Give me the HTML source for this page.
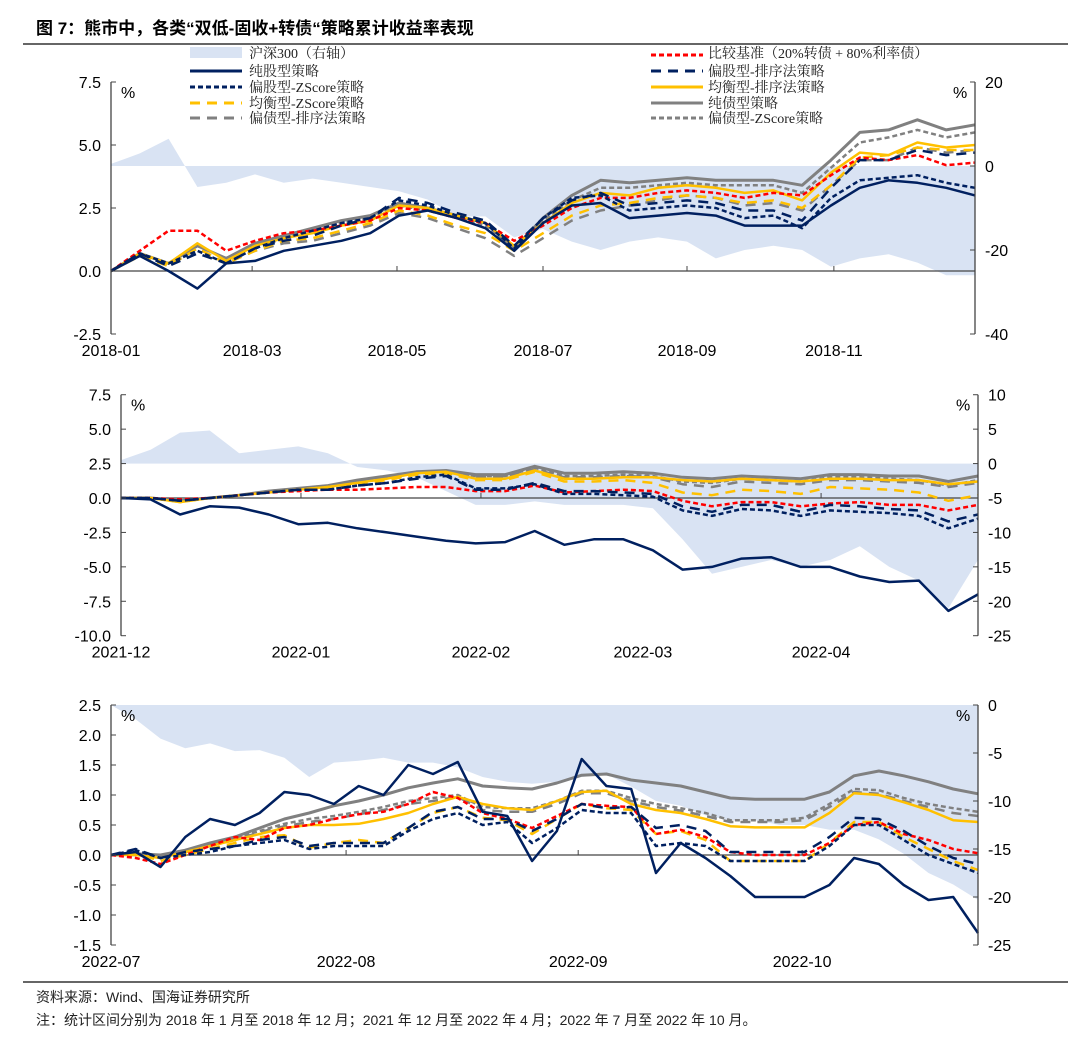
<!DOCTYPE html>
<html><head><meta charset="utf-8">
<style>
html,body{margin:0;padding:0;background:#fff;}
svg{display:block;}
.t{font-family:"Liberation Sans","Noto Sans CJK SC",sans-serif;font-size:16px;fill:#000;}
.lg{font-family:"Liberation Serif","Noto Serif CJK SC",serif;font-size:14px;fill:#222;}
</style></head>
<body>
<svg id="chart" width="1080" height="1039" viewBox="0 0 1080 1039" xmlns="http://www.w3.org/2000/svg">
<text x="36" y="34" style="font-family:'Liberation Sans','Noto Sans CJK SC',sans-serif;font-size:17px;font-weight:bold;fill:#000">图 7：熊市中，各类“双低-固收+转债“策略累计收益率表现</text>
<line x1="23" y1="44" x2="1068" y2="44" stroke="#666" stroke-width="2"/>
<g id="legend">
 <g><rect x="190" y="47" width="52" height="11" fill="#d9e3f3"/><text class="lg" x="249" y="58">沪深300（右轴）</text></g>
 <g><line x1="190" y1="71" x2="242" y2="71" stroke="#002060" stroke-width="3"/><text class="lg" x="249" y="76">纯股型策略</text></g>
 <g><line x1="190" y1="87" x2="242" y2="87" stroke="#002060" stroke-width="3" stroke-dasharray="5,3"/><text class="lg" x="249" y="92">偏股型-ZScore策略</text></g>
 <g><line x1="190" y1="103" x2="242" y2="103" stroke="#ffc000" stroke-width="3" stroke-dasharray="10,7"/><text class="lg" x="249" y="108">均衡型-ZScore策略</text></g>
 <g><line x1="190" y1="118" x2="242" y2="118" stroke="#808080" stroke-width="3" stroke-dasharray="10,7"/><text class="lg" x="249" y="123">偏债型-排序法策略</text></g>
 <g><line x1="651" y1="55" x2="703" y2="55" stroke="#ff0000" stroke-width="3" stroke-dasharray="5,3"/><text class="lg" x="708" y="58">比较基准（20%转债 + 80%利率债）</text></g>
 <g><line x1="651" y1="71" x2="703" y2="71" stroke="#002060" stroke-width="3" stroke-dasharray="10,7"/><text class="lg" x="708" y="76">偏股型-排序法策略</text></g>
 <g><line x1="651" y1="87" x2="703" y2="87" stroke="#ffc000" stroke-width="3"/><text class="lg" x="708" y="92">均衡型-排序法策略</text></g>
 <g><line x1="651" y1="103" x2="703" y2="103" stroke="#808080" stroke-width="3"/><text class="lg" x="708" y="108">纯债型策略</text></g>
 <g><line x1="651" y1="118" x2="703" y2="118" stroke="#808080" stroke-width="3" stroke-dasharray="5,3"/><text class="lg" x="708" y="123">偏债型-ZScore策略</text></g>
</g>
<line x1="23" y1="982" x2="1068" y2="982" stroke="#666" stroke-width="2"/>
<text x="36" y="1002" style="font-family:'Liberation Sans','Noto Sans CJK SC',sans-serif;font-size:14px;fill:#222">资料来源：Wind、国海证券研究所</text>
<text x="36" y="1025" style="font-family:'Liberation Sans','Noto Sans CJK SC',sans-serif;font-size:14px;fill:#222">注：统计区间分别为 2018 年 1 月至 2018 年 12 月；2021 年 12 月至 2022 年 4 月；2022 年 7 月至 2022 年 10 月。</text>
</svg>
<script>
// ---------- Panel 1: 2018 ----------
const p1Months = ["2018-01","2018-03","2018-05","2018-07","2018-09","2018-11"];
const p1MonthIdx = [0,4.9,9.93,15,20,25.1];
const p1Hs = [0.5,3,6.5,-5,-4,-2,-4,-3,-4,-5,-6,-8,-12,-12,-17,-15,-18,-20,-18,-17,-18,-22,-20,-19,-20,-24,-22,-21,-23,-26,-26];
const p1Bench = [0.0,0.8,1.6,1.6,0.8,1.2,1.5,1.6,1.8,2.0,2.5,2.4,2.1,1.9,1.2,1.8,2.5,2.9,2.9,3.1,3.2,3.1,2.9,3.1,3.0,3.8,4.5,4.4,4.6,4.2,4.3];
const p1PureEq = [0.0,0.6,0.0,-0.7,0.3,0.4,0.8,1.0,1.2,1.5,2.2,2.4,2.1,1.7,0.8,1.9,2.6,2.7,2.1,2.2,2.3,2.2,1.8,1.8,1.8,2.6,3.3,3.6,3.5,3.3,3.0];
const p1EqRank = [0.0,0.7,0.2,0.7,0.3,0.9,1.2,1.4,1.8,2.1,2.9,2.7,2.3,2.0,1.0,2.1,2.8,3.1,2.6,2.7,2.8,2.7,2.4,2.4,2.0,3.3,4.4,4.4,4.8,4.6,4.7];
const p1EqZ = [0.0,0.7,0.3,0.8,0.3,0.9,1.3,1.6,1.9,2.1,2.8,2.6,2.2,1.9,0.9,2.1,2.9,3.0,2.4,2.5,2.6,2.5,2.1,2.2,1.7,2.9,3.6,3.7,3.8,3.5,3.3];
const p1BalRank = [0.0,0.7,0.3,1.1,0.4,1.0,1.3,1.5,1.8,2.0,2.6,2.5,2.2,1.9,1.0,1.9,2.7,3.1,3.0,3.3,3.4,3.3,3.1,3.2,2.8,3.9,4.7,4.6,5.1,4.9,5.0];
const p1BalZ = [0.0,0.6,0.2,0.9,0.3,0.8,1.2,1.3,1.6,1.9,2.4,2.2,1.8,1.5,0.8,1.5,2.2,2.6,2.7,2.9,3.0,2.9,2.7,2.8,2.5,3.4,4.5,4.6,4.9,4.8,4.8];
const p1PureBond = [0.0,0.7,0.3,1.0,0.5,1.1,1.4,1.7,2.0,2.2,2.7,2.5,2.2,1.9,0.9,2.1,3.0,3.6,3.5,3.6,3.7,3.6,3.6,3.6,3.4,4.4,5.5,5.6,6.0,5.6,5.8];
const p1BondRank = [0.0,0.6,0.2,0.9,0.3,0.8,1.1,1.2,1.5,1.8,2.3,2.1,1.7,1.3,0.6,1.3,2.0,2.4,2.6,2.8,3.0,2.9,2.6,2.7,2.4,3.4,4.4,4.4,4.9,4.7,4.8];
const p1BondZ = [0.0,0.7,0.3,1.0,0.5,1.1,1.4,1.6,1.9,2.1,2.6,2.4,2.1,1.8,0.9,2.0,2.8,3.3,3.3,3.4,3.5,3.4,3.4,3.4,3.1,4.1,5.1,5.3,5.6,5.3,5.5];
const p1LeftTicks = [7.5,5.0,2.5,0.0,-2.5];
const p1RightTicks = [20,0,-20,-40];

// ---------- Panel 2: 2021-12 to 2022-04 ----------
const p2Months = ["2021-12","2022-01","2022-02","2022-03","2022-04"];
const p2MonthIdx = [0,6.09,12.18,17.66,23.69];
const p2Hs = [0.5,2,4.5,4.8,1.5,2,2.5,1.5,-0.5,-1,-2,-4,-6,-6,-5.5,-6,-6,-6,-6.5,-11,-16,-15,-14,-15,-14,-12,-15,-17,-21,-14];
const p2Bench = [0,0,-0.1,0,0.2,0.4,0.5,0.6,0.6,0.7,0.8,0.8,0.5,0.5,0.9,0.4,0.5,0.6,0.5,-0.2,-0.6,-0.3,-0.3,-0.6,-0.4,-0.3,-0.5,-0.5,-0.9,-0.5];
const p2PureEq = [0,-0.1,-1.2,-0.6,-0.7,-1.2,-1.9,-1.8,-2.2,-2.5,-2.8,-3.1,-3.3,-3.2,-2.4,-3.4,-3.0,-3.0,-3.8,-5.2,-5.0,-4.4,-4.3,-5.0,-5.0,-5.7,-6.1,-6.0,-8.2,-7.0];
const p2EqRank = [0,0,-0.2,0,0.2,0.4,0.6,0.6,0.9,1.1,1.4,1.6,0.6,0.6,1.1,0.5,0.5,0.4,0.3,-0.6,-1.0,-0.5,-0.5,-1.0,-0.5,-0.6,-0.8,-0.9,-1.7,-1.2];
const p2EqZ = [0,0,-0.2,0,0.2,0.4,0.6,0.6,0.9,1.1,1.5,1.7,0.7,0.7,1.0,0.3,0.3,0.2,0.1,-0.9,-1.3,-0.8,-0.9,-1.3,-0.9,-1.0,-1.1,-1.3,-2.2,-1.5];
const p2BalRank = [0,0,-0.3,0,0.2,0.4,0.6,0.8,1.1,1.4,1.8,1.9,1.4,1.4,2.0,1.4,1.4,1.5,1.5,1.3,1.2,1.4,1.3,1.2,1.4,1.4,1.3,1.3,1.0,1.2];
const p2BalZ = [0,0,-0.3,0,0.2,0.4,0.6,0.8,1.0,1.3,1.7,1.8,1.3,1.3,1.9,1.2,1.2,1.3,1.1,0.4,0.2,0.6,0.5,0.3,0.8,0.7,0.6,0.4,-0.2,0.2];
const p2PureBond = [0,0,-0.2,0,0.2,0.5,0.7,0.9,1.3,1.6,1.9,2.0,1.7,1.7,2.3,1.8,1.8,1.9,1.8,1.5,1.4,1.6,1.5,1.4,1.7,1.7,1.6,1.6,1.2,1.6];
const p2BondRank = [0,0,-0.2,0,0.2,0.4,0.6,0.8,1.1,1.4,1.7,1.8,1.5,1.5,2.1,1.5,1.5,1.6,1.5,1.0,0.8,1.2,1.1,1.0,1.3,1.3,1.2,1.1,0.8,1.1];
const p2BondZ = [0,0,-0.2,0,0.2,0.5,0.7,0.9,1.2,1.5,1.8,1.9,1.6,1.6,2.2,1.6,1.6,1.7,1.6,1.2,1.1,1.4,1.3,1.2,1.5,1.5,1.4,1.3,0.9,1.3];
const p2LeftTicks = [7.5,5.0,2.5,0.0,-2.5,-5.0,-7.5,-10.0];
const p2RightTicks = [10,5,0,-5,-10,-15,-20,-25];

// ---------- Panel 3: 2022-07 to 2022-10 ----------
const p3Months = ["2022-07","2022-08","2022-09","2022-10"];
const p3MonthIdx = [0,9.49,18.86,27.9];
const p3Hs = [0,-1.5,-3.5,-4.5,-4,-4.8,-4.7,-5.5,-7.5,-6,-5.8,-5.5,-6,-6,-6.5,-7.5,-8,-8.2,-8,-7.5,-7.2,-8.5,-10,-10.5,-11.5,-12,-12,-12.5,-12.5,-13,-13,-14,-15.5,-17.5,-18.7,-20.3];
const p3Bench = [0,-0.05,-0.15,0.0,0.15,0.3,0.25,0.45,0.5,0.6,0.68,0.72,0.85,1.05,0.95,0.7,0.6,0.45,0.65,0.85,0.82,0.8,0.35,0.42,0.3,0.05,0.0,0.0,0.0,0.2,0.5,0.55,0.35,0.25,0.1,0.03];
const p3PureEq = [0,0.05,-0.2,0.3,0.6,0.5,0.7,1.05,1.0,0.85,1.15,1.0,1.5,1.35,1.55,0.72,0.65,-0.1,0.4,1.6,1.15,1.1,-0.3,0.2,-0.05,-0.35,-0.7,-0.7,-0.7,-0.5,-0.05,-0.15,-0.5,-0.75,-0.7,-1.3];
const p3EqRank = [0,0.1,-0.05,0.05,0.1,0.15,0.25,0.3,0.15,0.2,0.2,0.2,0.45,0.72,0.8,0.6,0.6,0.4,0.6,0.85,0.78,0.8,0.45,0.5,0.4,0.05,0.05,0.05,0.05,0.3,0.62,0.6,0.4,0.15,-0.05,-0.15];
const p3EqZ = [0,0.08,-0.05,0.0,0.05,0.15,0.2,0.25,0.1,0.15,0.15,0.15,0.4,0.6,0.7,0.5,0.55,0.2,0.45,0.75,0.7,0.7,0.15,0.2,0.15,-0.1,-0.1,-0.1,-0.1,0.15,0.5,0.5,0.25,0.0,-0.15,-0.3];
const p3BalRank = [0,0.0,-0.05,0.05,0.15,0.25,0.35,0.45,0.5,0.5,0.52,0.6,0.7,0.85,0.97,0.85,0.78,0.75,0.9,1.05,1.07,0.85,0.75,0.7,0.6,0.48,0.46,0.46,0.46,0.7,1.03,1.0,0.88,0.75,0.58,0.55];
const p3BalZ = [0,0.03,-0.1,0.0,0.1,0.2,0.3,0.33,0.12,0.2,0.25,0.2,0.45,0.7,0.8,0.62,0.58,0.35,0.6,0.85,0.78,0.75,0.35,0.4,0.25,-0.1,-0.1,-0.1,-0.1,0.2,0.55,0.55,0.3,0.1,-0.1,-0.25];
const p3PureBond = [0,0.02,0.0,0.08,0.2,0.3,0.45,0.6,0.7,0.82,0.9,1.0,1.12,1.2,1.27,1.15,1.12,1.1,1.2,1.33,1.35,1.25,1.2,1.15,1.05,0.95,0.93,0.93,0.93,1.05,1.32,1.4,1.32,1.22,1.1,1.02];
const p3BondRank = [0,0.0,-0.02,0.05,0.15,0.25,0.38,0.48,0.55,0.6,0.68,0.75,0.85,0.9,0.97,0.75,0.72,0.72,0.85,1.03,1.03,0.9,0.8,0.74,0.65,0.55,0.55,0.55,0.58,0.8,1.05,1.02,0.9,0.8,0.7,0.65];
const p3BondZ = [0,0.02,0.0,0.05,0.18,0.28,0.4,0.52,0.6,0.65,0.72,0.8,0.9,0.95,1.0,0.8,0.78,0.78,0.9,1.07,1.07,0.95,0.85,0.78,0.7,0.58,0.58,0.58,0.62,0.85,1.1,1.08,0.95,0.85,0.78,0.72];
const p3LeftTicks = [2.5,2.0,1.5,1.0,0.5,0.0,-0.5,-1.0,-1.5];
const p3RightTicks = [0,-5,-10,-15,-20,-25];

const NS = "http://www.w3.org/2000/svg";
const svg = document.getElementById("chart");
function mk(tag, attrs, parent){
  const e = document.createElementNS(NS, tag);
  for (const k in attrs) e.setAttribute(k, attrs[k]);
  (parent||svg).appendChild(e);
  return e;
}

function drawPanel(cfg){
  const g = mk("g", {});
  
  
  const n = cfg.series[0].data.length;
  const xS = i => cfg.x0 + (cfg.x1 - cfg.x0) * i / (n - 1);
  const yL = v => cfg.yZero - v * cfg.pxPerUnit;
  const yR = r => yL(cfg.rToL(r));
  const yTop = yL(cfg.leftTicks[0]), yBot = yL(cfg.leftTicks[cfg.leftTicks.length-1]);

  // HS300 area
  let d = "M" + xS(0) + "," + yR(0);
  cfg.hs.forEach((r,i)=>{ d += " L" + xS(i).toFixed(1) + "," + yR(r).toFixed(1); });
  d += " L" + xS(n-1) + "," + yR(0) + " Z";
  const area = mk("path", {d:d, fill:"#d9e3f3", stroke:"none"}, g);
  
  

  // zero line
  const zl = mk("line", {x1:cfg.x0, x2:cfg.x1, y1:yL(0), y2:yL(0), stroke:"#444", "stroke-width":1.3}, g);
  
  
  cfg.monthIdx.forEach((mi,k)=>{
    const x = xS(mi);
    const tk = mk("line", {x1:x, x2:x, y1:yL(0), y2:yL(0)-5, stroke:"#444", "stroke-width":1}, g);
    
    
    const lb = mk("text", {x:x, y:yBot+22, "text-anchor":"middle", class:"t"}, g);
    
    
    lb.textContent = cfg.months[k];
  });

  // series lines
  cfg.series.forEach(s=>{
    const pts = s.data.map((v,i)=>xS(i).toFixed(1)+","+yL(v).toFixed(1)).join(" ");
    const pl = mk("polyline", {points:pts, fill:"none", stroke:s.color, "stroke-width":s.w||2.5, "stroke-linejoin":"round"}, g);
    if (s.dash) pl.setAttribute("stroke-dasharray", s.dash);
    
    
  });

  // axes
  const la = mk("line", {x1:cfg.x0, x2:cfg.x0, y1:yTop, y2:yBot, stroke:"#444", "stroke-width":1.3}, g);
  
  
  const ra = mk("line", {x1:cfg.x1, x2:cfg.x1, y1:yTop, y2:yBot, stroke:"#444", "stroke-width":1.3}, g);
  
  
  cfg.leftTicks.forEach(v=>{
    const y = yL(v);
    mk("line", {x1:cfg.x0, x2:cfg.x0+5, y1:y, y2:y, stroke:"#444", "stroke-width":1}, g);
    const t = mk("text", {x:cfg.x0-10, y:y+6, "text-anchor":"end", class:"t"}, g);
    
    
    t.textContent = v.toFixed(1);
  });
  cfg.rightTicks.forEach(r=>{
    const y = yR(r);
    mk("line", {x1:cfg.x1, x2:cfg.x1-5, y1:y, y2:y, stroke:"#444", "stroke-width":1}, g);
    const t = mk("text", {x:cfg.x1+10, y:y+6, "text-anchor":"start", class:"t"}, g);
    
    
    t.textContent = String(r);
  });
  const pl = mk("text", {x:cfg.x0+10, y:yTop+16, class:"t"}, g);
  
  
  pl.textContent = "%";
  const pr = mk("text", {x:cfg.x1-22, y:yTop+16, class:"t"}, g);
  
  
  pr.textContent = "%";
}

const NAVY="#002060", RED="#ff0000", GOLD="#ffc000", GRAY="#808080";
const SH="5,3", LO="10,7";
function mkSeries(b,pe,er,ez,br,bz,pb,dr,dz){
  return [
    {name:"hs-area-dummy", data:b, color:"none"},
  ].slice(1).concat([
    {name:"pure-bond-line", data:pb, color:GRAY, w:3},
    {name:"bond-zscore-line", data:dz, color:GRAY, dash:SH},
    {name:"bond-rank-line", data:dr, color:GRAY, dash:LO},
    {name:"balanced-zscore-line", data:bz, color:GOLD, dash:LO},
    {name:"balanced-rank-line", data:br, color:GOLD},
    {name:"benchmark-line", data:b, color:RED, dash:SH},
    {name:"equity-zscore-line", data:ez, color:NAVY, dash:SH},
    {name:"equity-rank-line", data:er, color:NAVY, dash:LO},
    {name:"pure-equity-line", data:pe, color:NAVY}
  ]);
}

drawPanel({name:"panel-2018", x0:111, x1:975, yZero:271, pxPerUnit:25.2,
  rToL: r => r*10/60 + 4.1667,
  hs:p1Hs, months:p1Months, monthIdx:p1MonthIdx, leftTicks:p1LeftTicks, rightTicks:p1RightTicks,
  series:mkSeries(p1Bench,p1PureEq,p1EqRank,p1EqZ,p1BalRank,p1BalZ,p1PureBond,p1BondRank,p1BondZ)});
drawPanel({name:"panel-2022h1", x0:121, x1:978, yZero:498, pxPerUnit:13.77,
  rToL: r => r/2 + 2.5,
  hs:p2Hs, months:p2Months, monthIdx:p2MonthIdx, leftTicks:p2LeftTicks, rightTicks:p2RightTicks,
  series:mkSeries(p2Bench,p2PureEq,p2EqRank,p2EqZ,p2BalRank,p2BalZ,p2PureBond,p2BondRank,p2BondZ)});
drawPanel({name:"panel-2022h2", x0:111, x1:978, yZero:855, pxPerUnit:60,
  rToL: r => 2.5 + r*0.16,
  hs:p3Hs, months:p3Months, monthIdx:p3MonthIdx, leftTicks:p3LeftTicks, rightTicks:p3RightTicks,
  series:mkSeries(p3Bench,p3PureEq,p3EqRank,p3EqZ,p3BalRank,p3BalZ,p3PureBond,p3BondRank,p3BondZ)});
</script>
</body></html>
